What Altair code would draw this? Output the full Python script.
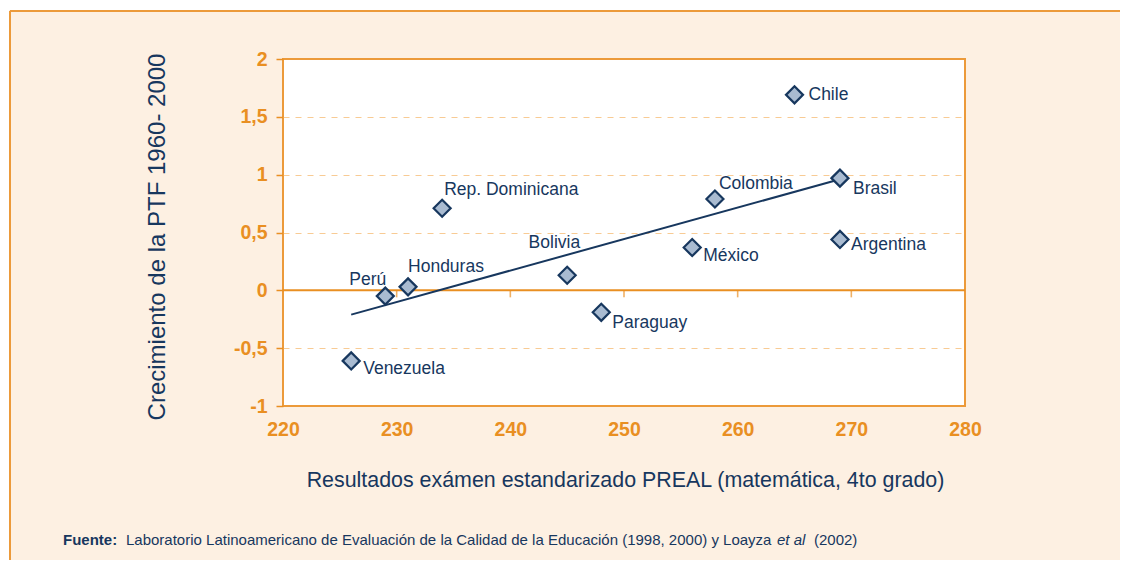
import altair as alt
import pandas as pd

# ---- data ----
countries = ["Venezuela", "Perú", "Honduras", "Rep. Dominicana", "Bolivia", "Paraguay",
             "México", "Colombia", "Chile", "Brasil", "Argentina"]
scores = [226, 229, 231, 234, 245, 248, 256, 258, 265, 269, 269]
ptf = [-0.61, -0.05, 0.03, 0.71, 0.13, -0.19, 0.37, 0.79, 1.69, 0.97, 0.44]

trend_x = [226, 269]
trend_y = [-0.21, 0.96]

x_ticks = [220, 230, 240, 250, 260, 270, 280]
y_ticks = [-1, -0.5, 0, 0.5, 1, 1.5, 2]
zero_ticks = [230, 240, 250, 260, 270]

df = pd.DataFrame({"pais": countries, "x": scores, "y": ptf})
trend = pd.DataFrame({"x": trend_x, "y": trend_y})
zt = pd.DataFrame({"x": zero_ticks, "y": [0] * len(zero_ticks)})
zl = pd.DataFrame({"x": [220, 280], "y": [0, 0]})

# ---- styles ----
W, H = 682, 347
ORANGE = "#E98F22"
BORDER = "#EC9A3A"
GRID = "#F8CB94"
BEIGE = "#FDF0E2"
NAVY = "#17375E"
FILL = "#A9BBD1"
FONT = "Liberation Sans"
NARROW = "Liberation Sans Narrow, Arial Narrow, Liberation Sans"

# label offsets (dx, dy, align) per country
label_style = {
    "Venezuela": (12, 8, "left"),
    "Perú": (1, -16, "right"),
    "Honduras": (0, -20, "left"),
    "Rep. Dominicana": (2, -18, "left"),
    "Bolivia": (13, -32, "right"),
    "Paraguay": (11, 11, "left"),
    "México": (11, 8, "left"),
    "Colombia": (4, -15, "left"),
    "Chile": (14, 0, "left"),
    "Brasil": (13, 11, "left"),
    "Argentina": (11, 6, "left"),
}

xscale = alt.Scale(domain=[220, 280], nice=False, zero=False)
yscale = alt.Scale(domain=[-1, 2], nice=False, zero=False)

X_AXIS = alt.Axis(
    values=x_ticks, grid=False, ticks=False, domain=False, labelFlush=False,
    labelColor=ORANGE, labelFont=FONT, labelFontSize=19.5, labelFontWeight="bold",
    labelPadding=14,
    title="Resultados exámen estandarizado PREAL (matemática, 4to grado)",
    titleColor=NAVY, titleFont=FONT, titleFontSize=21.4, titleFontWeight="normal",
    titleX=342, titleY=74, titleBaseline="middle", titleAlign="center")
Y_AXIS = alt.Axis(
    values=y_ticks, labelExpr="replace(toString(datum.value), '.', ',')",
    grid=True, gridColor=GRID, gridDash=[6, 6], gridWidth=1,
    gridOpacity={"condition": {"test": "datum.value == 2 || datum.value == -1 || datum.value == 0",
                               "value": 0}, "value": 1},
    domain=False, tickColor=ORANGE, tickSize=7, tickWidth=1.5,
    labelColor=ORANGE, labelFont=FONT, labelFontSize=19.5, labelFontWeight="bold",
    labelPadding=9,
    title="Crecimiento de la PTF 1960- 2000",
    titleColor=NAVY, titleFont=FONT, titleFontSize=24, titleFontWeight="normal",
    titleX=-126, titleY=H / 2 + 4, titleAngle=-90, titleBaseline="middle", titleAlign="center")


def xy():
    return dict(x=alt.X("x:Q", scale=xscale, axis=X_AXIS),
                y=alt.Y("y:Q", scale=yscale, axis=Y_AXIS))


base = alt.Chart(df)

# panel border (outside plot) and white page strip
frame_df = pd.DataFrame({"k": [0]})
fb = alt.Chart(frame_df)
white_top = fb.mark_rect(fill="white").encode(
    x=alt.value(-290), x2=alt.value(1200), y=alt.value(-70), y2=alt.value(-49))
white_left = fb.mark_rect(fill="white").encode(
    x=alt.value(-290), x2=alt.value(-274), y=alt.value(-70), y2=alt.value(700))
border_left = fb.mark_rule(color=BORDER, strokeWidth=2).encode(
    x=alt.value(-273), y=alt.value(-48), y2=alt.value(700))
border_top = fb.mark_rule(color=BORDER, strokeWidth=2).encode(
    x=alt.value(-273), x2=alt.value(1200), y=alt.value(-48))

# zero line and its ticks
zero_line = alt.Chart(zl).mark_line(color=ORANGE, strokeWidth=2).encode(**xy())
zero_tick_marks = alt.Chart(zt).mark_tick(
    color=ORANGE, orient="vertical", size=7, thickness=1.6).encode(
    **xy(), yOffset=alt.value(3.5))

trend_line = alt.Chart(trend).mark_line(color=NAVY, strokeWidth=2).encode(**xy())

points = base.mark_point(shape="diamond", fill=FILL, stroke=NAVY, strokeWidth=2.2,
                         size=290, opacity=1, fillOpacity=1).encode(**xy())

labels = []
for name, (dx, dy, align) in label_style.items():
    labels.append(
        base.transform_filter(alt.datum.pais == name).mark_text(
            dx=dx, dy=dy, align=align, baseline="middle", font=FONT, fontSize=17.5, color=NAVY
        ).encode(**xy(), text="pais:N")
    )

foot_y = 540 - 59
FS = 15
foot1 = fb.mark_text(text="Fuente:", font=NARROW, fontSize=FS, fontWeight="bold",
                     color=NAVY, align="left", baseline="middle").encode(
    x=alt.value(63 - 283), y=alt.value(foot_y))
foot2 = fb.mark_text(
    text="Laboratorio Latinoamericano de Evaluación de la Calidad de la Educación (1998, 2000) y Loayza",
    font=NARROW, fontSize=FS, color=NAVY, align="left", baseline="middle").encode(
    x=alt.value(126 - 283), y=alt.value(foot_y))
foot3 = fb.mark_text(text="et al", font=NARROW, fontSize=FS, fontStyle="italic",
                     color=NAVY, align="left", baseline="middle").encode(
    x=alt.value(777 - 283), y=alt.value(foot_y))
foot4 = fb.mark_text(text="(2002)", font=NARROW, fontSize=FS,
                     color=NAVY, align="left", baseline="middle").encode(
    x=alt.value(814 - 283), y=alt.value(foot_y))

chart = alt.layer(
    white_top, white_left, border_left, border_top,
    zero_line, zero_tick_marks,
    trend_line, points, *labels, foot1, foot2, foot3, foot4
).properties(
    width=W, height=H,
    autosize=alt.AutoSizeParams(type="none"),
    padding={"left": 275, "top": 51, "right": 155, "bottom": 154},
    background=BEIGE,
).configure_view(fill="white", stroke=BORDER, strokeWidth=2)

chart.save("out.html", embed_options={"renderer": "svg", "actions": False})
